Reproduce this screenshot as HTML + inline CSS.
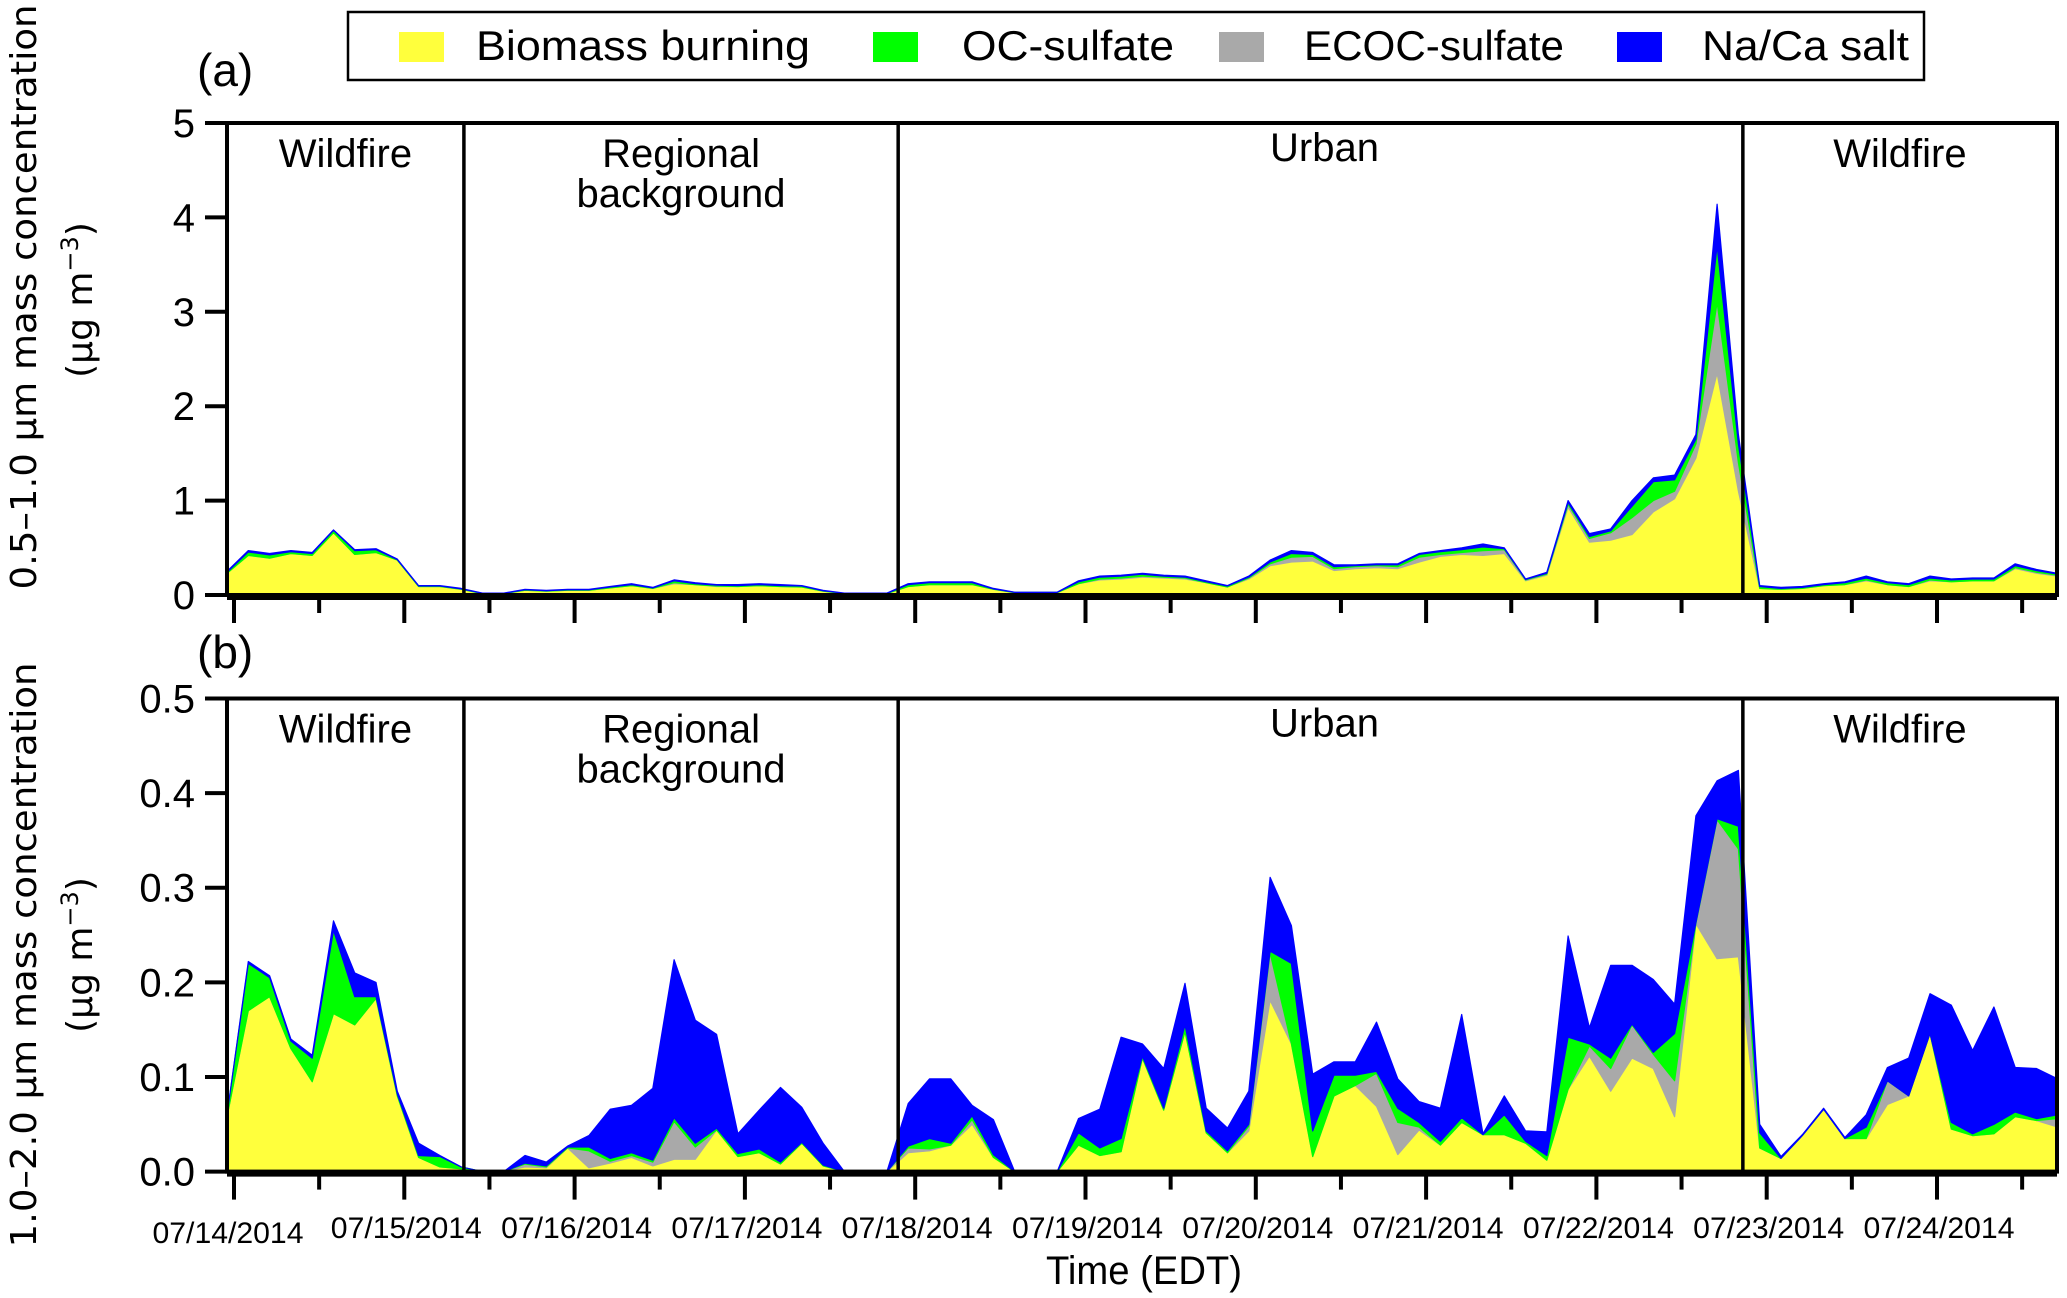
<!DOCTYPE html>
<html><head><meta charset="utf-8"><style>
html,body{margin:0;padding:0;background:#fff;}
svg{display:block;}
text{font-family:"Liberation Sans Narrow","Liberation Sans",sans-serif;fill:#000;}
</style></head><body>
<svg id="chart" width="2067" height="1298" viewBox="0 0 2067 1298" xmlns="http://www.w3.org/2000/svg">
<g id="legend">
<rect x="348" y="12" width="1576" height="68" fill="#fff" stroke="#000" stroke-width="2.5"/>
<rect x="399" y="32" width="45" height="30" fill="#ffff3c"/>
<text x="476" y="60" font-size="42" textLength="334" lengthAdjust="spacingAndGlyphs">Biomass burning</text>
<rect x="873" y="32" width="45" height="30" fill="#00ff00"/>
<text x="962" y="60" font-size="42" textLength="212" lengthAdjust="spacingAndGlyphs">OC-sulfate</text>
<rect x="1219" y="32" width="45" height="30" fill="#a9a9a9"/>
<text x="1304" y="60" font-size="42" textLength="260" lengthAdjust="spacingAndGlyphs">ECOC-sulfate</text>
<rect x="1617" y="32" width="45" height="30" fill="#0000ff"/>
<text x="1702" y="60" font-size="42" textLength="207" lengthAdjust="spacingAndGlyphs">Na/Ca salt</text>
</g>
<text x="197" y="86" font-size="46">(a)</text>
<text x="197" y="668" font-size="46">(b)</text>
<text transform="translate(36,297) rotate(-90)" text-anchor="middle" font-size="36" style="font-family:'DejaVu Sans',sans-serif" textLength="585" lengthAdjust="spacingAndGlyphs">0.5–1.0 µm mass concentration</text>
<text transform="translate(92,300) rotate(-90)" text-anchor="middle" font-size="36" style="font-family:'DejaVu Sans',sans-serif">(µg m<tspan font-size="24" dy="-14">−3</tspan><tspan dy="14">)</tspan></text>
<text transform="translate(36,955) rotate(-90)" text-anchor="middle" font-size="36" style="font-family:'DejaVu Sans',sans-serif" textLength="585" lengthAdjust="spacingAndGlyphs">1.0–2.0 µm mass concentration</text>
<text transform="translate(92,955) rotate(-90)" text-anchor="middle" font-size="36" style="font-family:'DejaVu Sans',sans-serif">(µg m<tspan font-size="24" dy="-14">−3</tspan><tspan dy="14">)</tspan></text>
<text x="1144" y="1284" text-anchor="middle" font-size="40" textLength="196" lengthAdjust="spacingAndGlyphs">Time (EDT)</text>
<g id="panelA"></g>
<g id="panelB"></g>
<g id="dates"></g>
</svg>
<script>
// Time axis: 3-hour samples, days since 07/14/2014 00:00
const T0 = -0.041;
const STEP = 0.125;
const dayLabels = ["07/14/2014","07/15/2014","07/16/2014","07/17/2014","07/18/2014","07/19/2014","07/20/2014","07/21/2014","07/22/2014","07/23/2014","07/24/2014"];
const periodNames = ["Wildfire","Regional background","Urban","Wildfire"];
const periodBounds = [1.35, 3.9, 8.86];

// Panel (a): 0.5-1.0 um, components (ug m-3)
const aYellow = [.23,.42,.39,.44,.42,.66,.43,.45,.37,.09,.09,.06,.015,.015,.05,.04,.05,.05,.075,.1,.07,.12,.11,.09,.09,.1,.09,.085,.04,.015,.015,.015,.09,.11,.11,.11,.06,.025,.025,.025,.12,.16,.17,.19,.18,.17,.13,.085,.17,.31,.35,.36,.26,.28,.29,.28,.35,.41,.43,.42,.44,.15,.21,.93,.56,.58,.64,.88,1.02,1.45,2.35,1.1,.07,.06,.07,.1,.11,.15,.11,.09,.15,.14,.15,.15,.28,.23,.2];
const aGray   = [0,0,0,0,0,0,0,0,0,0,0,0,0,0,0,0,0,0,0,0,0,.01,0,.005,0,0,0,0,0,0,0,0,0,0,0,0,0,0,0,0,0,.01,.01,.01,.01,.01,0,0,.01,.02,.05,.05,.02,.02,.02,.02,.05,.02,.02,.05,.04,.01,.01,.03,.04,.08,.18,.12,.08,.15,.75,.3,0,0,0,0,0,.01,0,0,.01,0,0,0,.01,.01,.01];
const aGreen  = [.01,.035,.035,.02,.02,.025,.04,.03,.005,.005,.005,.005,.003,.003,.005,.005,.005,.005,.01,.01,.005,.02,.01,.01,.01,.01,.01,.01,.005,.003,.003,.003,.02,.02,.02,.02,.005,.003,.003,.003,.02,.02,.02,.02,.01,.01,.01,.01,.01,.02,.04,.02,.02,.01,.01,.02,.03,.03,.03,.04,.01,.005,.01,.02,.02,.02,.12,.2,.12,.05,.6,.2,.02,.01,.01,.01,.02,.02,.02,.02,.02,.02,.02,.02,.02,.02,.01];
const aBlue   = [.01,.015,.015,.01,.01,.005,.01,.01,.005,.005,.005,.005,.002,.002,.005,.005,.005,.005,.005,.01,.005,.01,.01,.005,.01,.01,.01,.005,.005,.002,.002,.002,.01,.01,.01,.01,.005,.002,.002,.002,.01,.01,.01,.01,.01,.01,.01,.005,.01,.02,.03,.02,.02,.01,.01,.01,.01,.01,.02,.03,.01,.005,.01,.02,.03,.02,.06,.04,.05,.05,.44,.1,.01,.01,.01,.01,.01,.02,.01,.01,.02,.01,.01,.01,.02,.01,.01];

// Panel (b): 1.0-2.0 um, components (ug m-3)
const bYellow = [.058,.17,.185,.13,.095,.167,.155,.183,.08,.015,.005,.003,0,0,.005,.004,.025,.004,.009,.015,.006,.013,.013,.044,.016,.02,.008,.03,.006,0,0,0,.02,.022,.028,.05,.015,0,0,0,.028,.017,.021,.12,.065,.148,.041,.02,.043,.181,.135,.016,.08,.091,.069,.018,.044,.028,.052,.039,.039,.03,.012,.087,.122,.085,.12,.109,.058,.262,.225,.227,.025,.014,.038,.066,.035,.035,.071,.08,.146,.045,.038,.04,.058,.054,.047];
const bGray   = [0,0,0,0,0,0,0,0,0,0,0,0,0,0,.003,.001,0,.018,.002,.002,.004,.04,.013,0,0,0,0,0,0,0,0,0,.005,.002,0,.005,0,0,0,0,0,0,0,0,0,0,0,0,.005,.05,0,0,0,0,.035,.034,.003,0,0,0,0,0,0,0,.011,.024,.035,.015,.038,0,.147,.114,0,0,0,0,0,0,.025,0,0,0,0,0,0,0,.009];
const bGreen  = [.002,.05,.02,.008,.025,.088,.03,.002,.002,.002,.011,.002,0,0,.001,.001,.001,.004,.003,.003,.002,.004,.004,.002,.003,.004,.002,.001,.001,0,0,0,.002,.011,.002,.004,.003,0,0,0,.013,.008,.014,.002,.002,.007,.002,.002,.002,.002,.085,.027,.022,.011,.002,.015,.005,.004,.005,0,.021,.002,.005,.055,.002,.011,.001,.002,.05,.001,.001,.024,.016,0,0,0,0,.012,0,0,0,.007,.002,.01,.005,.002,.004];
const bBlue   = [0,.002,.002,.002,.003,.01,.025,.015,.003,.013,.001,0,0,0,.008,.004,.001,.012,.052,.05,.076,.167,.13,.099,.021,.041,.079,.037,.023,0,0,0,.045,.063,.068,.011,.037,0,0,0,.015,.041,.107,.013,.042,.044,.024,.024,.035,.078,.04,.06,.014,.014,.052,.031,.022,.035,.109,.001,.02,.011,.025,.107,.017,.098,.062,.077,.031,.113,.04,.059,.009,.002,.001,.001,.001,.013,.014,.04,.042,.124,.088,.124,.047,.053,.038];

const yTicksA = [0,1,2,3,4,5];
const yTicksB = [0,0.1,0.2,0.3,0.4,0.5];

const NS = "http://www.w3.org/2000/svg";
const X0 = 227, X1 = 2057;
function xScale(t){ return 234 + t*170.3; }
function mk(tag, attrs, parent){
  const e = document.createElementNS(NS, tag);
  for (const k in attrs) e.setAttribute(k, attrs[k]);
  parent.appendChild(e);
  return e;
}

function drawPanel(g, series, yTicks, yMax, top, bottom, fmt, key){
  const yScale = v => bottom - (v / yMax) * (bottom - top);
  const colors = ["#ffff3c","#a9a9a9","#00ff00","#0000ff"];
  const names = ["biomass","ecoc-sulfate","oc-sulfate","naca-salt"];
  const n = series[0].length;
  const cum = new Array(n).fill(0);
  const clipId = "clip-" + key;
  const defs = mk("defs", {}, g);
  const cp = mk("clipPath", {id: clipId}, defs);
  mk("rect", {x: X0, y: top, width: X1 - X0, height: bottom - top + 1}, cp);
  const areaG = mk("g", {"clip-path": "url(#" + clipId + ")"}, g);
  series.forEach((s, k) => {
    const lower = cum.slice();
    for (let i = 0; i < n; i++) cum[i] += s[i];
    let pts = [];
    for (let i = 0; i < n; i++) pts.push(xScale(T0 + i*STEP).toFixed(1) + "," + yScale(cum[i]).toFixed(1));
    for (let i = n-1; i >= 0; i--) pts.push(xScale(T0 + i*STEP).toFixed(1) + "," + yScale(lower[i]).toFixed(1));
    const p = mk("polygon", {points: pts.join(" "), fill: colors[k], stroke: colors[k], "stroke-width": 1.2, "stroke-linejoin": "round"}, areaG);
    
    
  });
  // frame
  const fr = mk("rect", {x: X0, y: top, width: X1 - X0, height: bottom - top, fill: "none", stroke: "#000", "stroke-width": 4}, g);
  
  
  // period dividers and labels
  periodBounds.forEach((t, j) => {
    const l = mk("line", {x1: xScale(t), x2: xScale(t), y1: top, y2: bottom, stroke: "#000", "stroke-width": 3.5}, g);
    
    
  });
  const edges = [X0].concat(periodBounds.map(xScale)).concat([X1]);
  periodNames.forEach((nm, j) => {
    const cx = (edges[j] + edges[j+1]) / 2 + (j===2 ? 4 : 0);
    const parts = nm === "Regional background" ? ["Regional","background"] : [nm];
    parts.forEach((pt, m) => {
      const tx = mk("text", {x: cx, y: top + (j===2 ? 38 : 44) + m*40, "text-anchor": "middle", "font-size": 40}, g);
      tx.textContent = pt;
      
      
    });
  });
  // y ticks
  yTicks.forEach(v => {
    const y = yScale(v);
    const tl = mk("line", {x1: X0 - 22, x2: X0, y1: y, y2: y, stroke: "#000", "stroke-width": 4}, g);
    
    
    const tx = mk("text", {x: X0 - 32, y: y + 14, "text-anchor": "end", "font-size": 40}, g);
    tx.textContent = fmt(v);
    
    
  });
  // x axis line and ticks
  const ax = mk("line", {x1: X0, x2: X1, y1: bottom + 3, y2: bottom + 3, stroke: "#000", "stroke-width": 4}, g);
  
  
  for (let h = 0; h <= 21; h++) {
    const x = xScale(h/2);
    if (x > X1) break;
    const major = h % 2 === 0;
    const tk = mk("line", {x1: x, x2: x, y1: bottom + 3, y2: bottom + (major ? 28 : 18), stroke: "#000", "stroke-width": 4}, g);
    
    
  }
}

drawPanel(document.getElementById("panelA"), [aYellow, aGray, aGreen, aBlue], yTicksA, 5, 123, 595, v => String(v), "a");
drawPanel(document.getElementById("panelB"), [bYellow, bGray, bGreen, bBlue], yTicksB, 0.5, 698.5, 1171.6, v => v.toFixed(1), "b");

const dg = document.getElementById("dates");
dayLabels.forEach((lb, d) => {
  const tx = mk("text", {x: xScale(d) + (d===0 ? -6 : 2), y: d===0 ? 1243 : 1238, "text-anchor": "middle", "font-size": 30, textLength: 151, lengthAdjust: "spacingAndGlyphs"}, dg);
  tx.textContent = lb;
  
  
});
</script>
</body></html>
